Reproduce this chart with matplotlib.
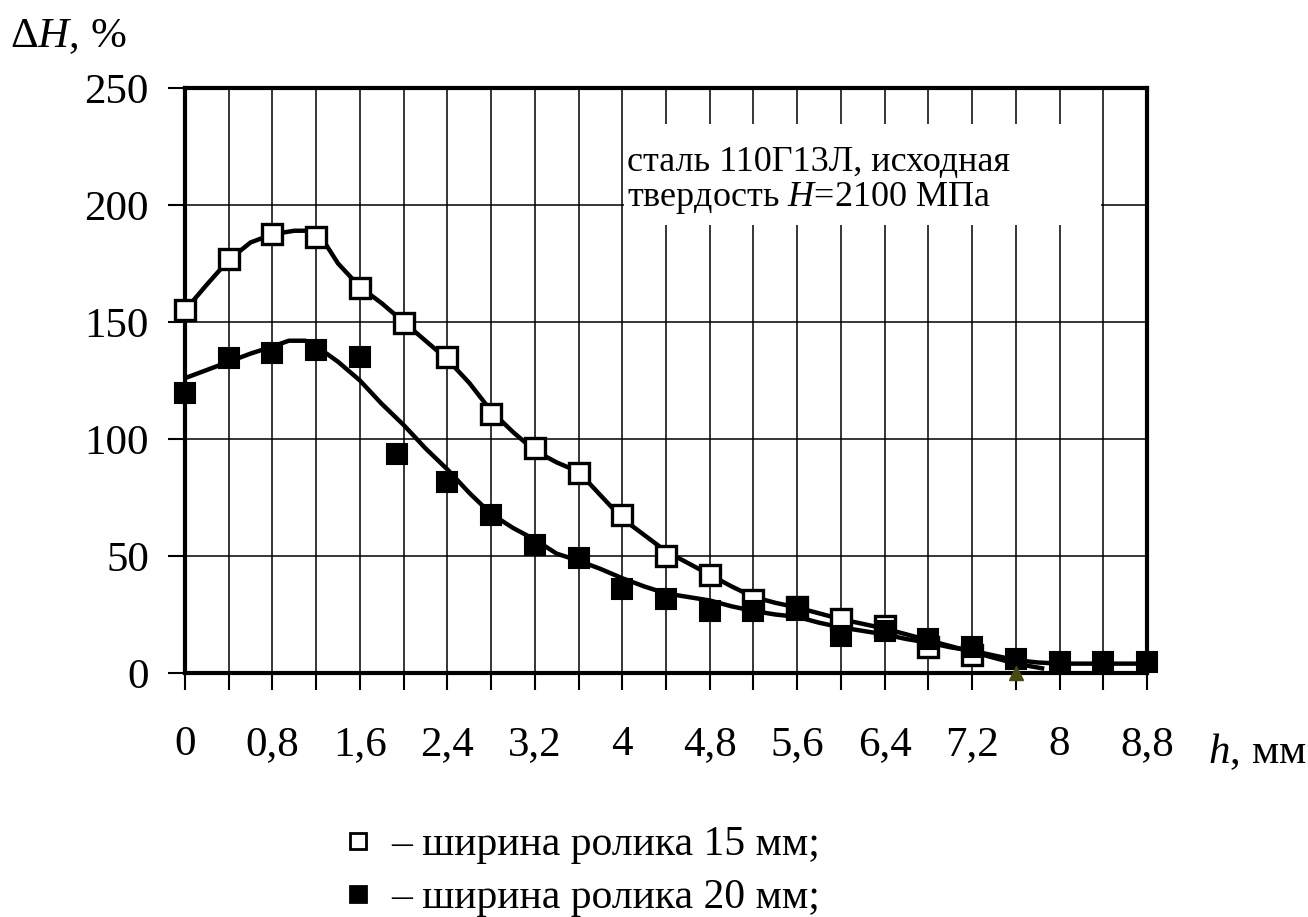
import numpy as np
import matplotlib
matplotlib.use("Agg")
import matplotlib.pyplot as plt
from matplotlib.lines import Line2D
from matplotlib.patches import Rectangle

plt.rcParams['font.family'] = ['Liberation Serif', 'DejaVu Serif']
plt.rcParams['mathtext.fontset'] = 'custom'
plt.rcParams['mathtext.rm'] = 'Liberation Serif'
plt.rcParams['mathtext.it'] = 'Liberation Serif:italic'

# measured points, roller width 15 mm (open squares)
h_15 = [0, 0.4, 0.8, 1.2, 1.6, 2.0, 2.4, 2.8, 3.2, 3.6, 4.0, 4.4, 4.8, 5.2, 5.6, 6.0, 6.4, 6.8, 7.2]
dH_15 = [155, 177, 187.5, 186.5, 164.5, 149.6, 135, 110.7, 96, 85.5, 67.5, 50, 42, 31, 28, 23, 20, 11, 7.5]

# measured points, roller width 20 mm (filled squares)
h_20 = [0, 0.4, 0.8, 1.2, 1.6, 1.94, 2.4, 2.8, 3.2, 3.6, 4.0, 4.4, 4.8, 5.2, 5.6, 6.0, 6.4, 6.8, 7.2, 7.6, 8.0, 8.4, 8.8]
dH_20 = [119.7, 134.6, 136.8, 138, 135, 93.6, 81.6, 67.5, 54.7, 49, 36, 31.5, 26.5, 26.5, 27, 16, 18, 14.5, 11, 6, 4.5, 4.5, 4.5]

# trend curves
curve_x_15 = [0, 0.2, 0.4, 0.6, 0.8, 1.0, 1.15, 1.25, 1.4, 1.6, 1.8, 2.0, 2.2, 2.4, 2.6, 2.8, 3.0,
              3.2, 3.4, 3.6, 3.8, 4.0, 4.2, 4.4, 4.6, 4.8, 5.0, 5.2, 5.4, 5.6, 5.8, 6.0, 6.2, 6.4,
              6.6, 6.8, 7.0, 7.2, 7.4, 7.6, 7.84]
curve_y_15 = [155, 166, 176.5, 184, 187.5, 189, 189, 186, 175, 165, 158, 150, 142, 134, 124, 112, 103,
              95, 90, 86, 76, 66, 59, 52, 47, 42, 37, 32.5, 30, 28, 25.5, 23, 21, 19,
              16.5, 14, 11.5, 9, 6.5, 4, 2]
curve_x_20 = [0, 0.2, 0.4, 0.6, 0.8, 0.95, 1.1, 1.25, 1.4, 1.6, 1.8, 2.0, 2.2, 2.4, 2.6, 2.8, 3.0,
              3.2, 3.4, 3.6, 3.8, 4.0, 4.2, 4.4, 4.6, 4.8, 5.0, 5.2, 5.4, 5.6, 5.8, 6.0, 6.2, 6.4,
              6.6, 6.8, 7.0, 7.2, 7.4, 7.6, 7.8, 8.0, 8.8]
curve_y_20 = [126, 129.5, 133, 136.5, 139.5, 142, 142, 138, 133, 125, 115, 106, 96, 87, 77, 68, 62,
              57, 51, 48, 44.5, 40.5, 37, 34, 32.5, 31, 28.5, 26.5, 25, 24, 21.5, 19.5, 18, 16.5,
              14.5, 13, 11, 9.5, 7.5, 5.5, 4.5, 4, 4]

x_ticks = [0, 0.8, 1.6, 2.4, 3.2, 4.0, 4.8, 5.6, 6.4, 7.2, 8.0, 8.8]
x_tick_labels = ['0', '0,8', '1,6', '2,4', '3,2', '4', '4,8', '5,6', '6,4', '7,2', '8', '8,8']
y_ticks = [0, 50, 100, 150, 200, 250]

fig = plt.figure(figsize=(13.08, 9.17), dpi=100)
ax = fig.add_axes([185/1308, 1-673/917, (1147-185)/1308, (673-88)/917])

ax.plot(curve_x_15, curve_y_15, color='black', lw=3.2, zorder=3)
ax.plot(curve_x_20, curve_y_20, color='black', lw=3.2, zorder=3)
ax.plot(h_15, dH_15, ls='none', marker='s', ms=14, mfc='white', mec='black', mew=2.4,
        zorder=8, clip_on=False)
ax.plot(h_20, dH_20, ls='none', marker='s', ms=15, mfc='black', mec='black', mew=1.5,
        zorder=9, clip_on=False)
# small marker sitting on the axis at 7.6
ax.plot([7.6], [0], ls='none', marker='^', ms=10, color='#4a4a10', zorder=10, clip_on=False)

ax.set_xlim(0, 8.8)
ax.set_ylim(0, 250)
ax.set_xticks(x_ticks)
ax.set_xticklabels(x_tick_labels)
ax.set_xticks(np.arange(0.4, 8.8, 0.8), minor=True)
ax.set_yticks(y_ticks)
ax.tick_params(axis='both', which='both', direction='out', length=12, width=1.5, color='black')
ax.tick_params(axis='x', which='major', labelsize=31, pad=26)
ax.tick_params(axis='y', labelsize=31, pad=14)
ax.grid(True, which='both', color='black', lw=1.1)
ax.set_axisbelow(True)
for s in ax.spines.values():
    s.set_linewidth(3)
    s.set_zorder(7)

# white box behind the note
ax.add_patch(Rectangle((4.02, 191.5), 4.36, 43, facecolor='white', edgecolor='none', zorder=1.5))
ax.text(4.04, 214.5, 'сталь 110Г13Л, исходная', fontsize=26, va='baseline', ha='left', zorder=6)
ax.text(4.04, 199.6, 'твердость $H$=2100 МПа', fontsize=26, va='baseline', ha='left', zorder=6)

fig.text(10/1308, 1-47/917, 'Δ$H$, %', fontsize=31, va='baseline', ha='left')
fig.text(1208/1308, 1-763/917, '$h$, мм', fontsize=31, va='baseline', ha='left')

handles = [Line2D([], [], ls='none', marker='s', ms=11, mfc='white', mec='black', mew=2),
           Line2D([], [], ls='none', marker='s', ms=11, mfc='black', mec='black', mew=2)]
labels = ['– ширина ролика 15 мм;', '– ширина ролика 20 мм;']
fig.legend(handles, labels, loc='upper left', bbox_to_anchor=(320/1308, 1-805/917),
           frameon=False, fontsize=30, handlelength=0.8, handletextpad=0.4, labelspacing=0.35,
           borderpad=0)

fig.savefig('out.png', dpi=100)
